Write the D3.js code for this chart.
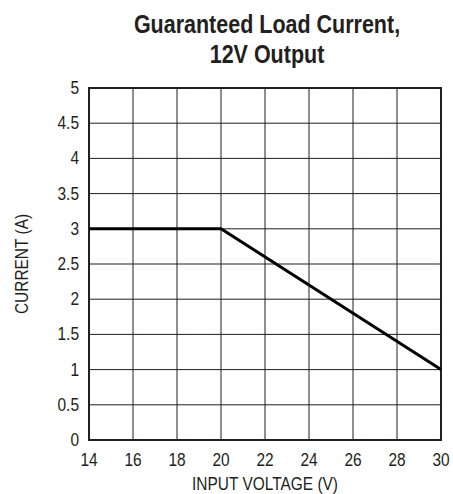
<!DOCTYPE html>
<html>
<head>
<meta charset="utf-8">
<script src="https://cdn.jsdelivr.net/npm/d3@7"></script>
<style>
  body { margin: 0; background: #fff; }
  text { font-family: "Liberation Sans", Arial, sans-serif; fill: #231f20; }
</style>
</head>
<body>
<div id="chart"></div>
<script>
// data
var voltage = [14, 20, 30];
var current = [3, 3, 1];
var xTicks = [14, 16, 18, 20, 22, 24, 26, 28, 30];
var yTicks = [0, 0.5, 1, 1.5, 2, 2.5, 3, 3.5, 4, 4.5, 5];
var titleLines = ["Guaranteed Load Current,", "12V Output"];

var W = 453, H = 494;
var m = {left: 89, right: 12, top: 88, bottom: 54};
var narrow = 0.86; // squeeze text to look like a condensed face

var svg = d3.select("#chart").append("svg")
  .attr("width", W)
  .attr("height", H);

var x = d3.scaleLinear().domain([14, 30]).range([m.left, W - m.right]);
var y = d3.scaleLinear().domain([0, 5]).range([H - m.bottom, m.top]);

// condensed text helper
function label(parent, tx, ty, str, size, anchor, rot) {
  return parent.append("text")
    .attr("transform", "translate(" + tx + "," + ty + ")" + (rot ? " rotate(" + rot + ")" : "") + " scale(" + narrow + ",1)")
    .attr("text-anchor", anchor)
    .style("font-size", size + "px")
    .text(str);
}

// grid
svg.append("g").selectAll("line")
  .data(xTicks.slice(1, -1))
  .enter().append("line")
  .attr("x1", function(d){ return x(d); })
  .attr("x2", function(d){ return x(d); })
  .attr("y1", y(0)).attr("y2", y(5))
  .style("stroke", "#231f20")
  .style("stroke-width", "1px");

svg.append("g").selectAll("line")
  .data(yTicks.slice(1, -1))
  .enter().append("line")
  .attr("x1", x(14)).attr("x2", x(30))
  .attr("y1", function(d){ return y(d); })
  .attr("y2", function(d){ return y(d); })
  .style("stroke", "#231f20")
  .style("stroke-width", "1px");

// frame
svg.append("rect")
  .attr("x", x(14)).attr("y", y(5))
  .attr("width", x(30) - x(14))
  .attr("height", y(0) - y(5))
  .style("fill", "none")
  .style("stroke", "#231f20")
  .style("stroke-width", "2px");

// data line
var line = d3.line()
  .x(function(d){ return x(d[0]); })
  .y(function(d){ return y(d[1]); });

svg.append("path")
  .datum(d3.zip(voltage, current))
  .attr("d", line)
  .style("fill", "none")
  .style("stroke", "#000")
  .style("stroke-width", "3px");

// tick labels
var gy = svg.append("g");
yTicks.forEach(function(d){
  label(gy, x(14) - 10, y(d) + 6, d, 18, "end");
});

var gx = svg.append("g");
xTicks.forEach(function(d){
  label(gx, x(d), y(0) + 26, d, 18, "middle");
});

// axis titles
label(svg, (x(14) + x(30)) / 2, 490, "INPUT VOLTAGE (V)", 18, "middle");
label(svg, 28, (y(0) + y(5)) / 2, "CURRENT (A)", 18, "middle", -90);

// title
titleLines.forEach(function(t, i){
  label(svg, 267, 33 + i * 30, t, 25, "middle").style("font-weight", "bold");
});
</script>
</body>
</html>
